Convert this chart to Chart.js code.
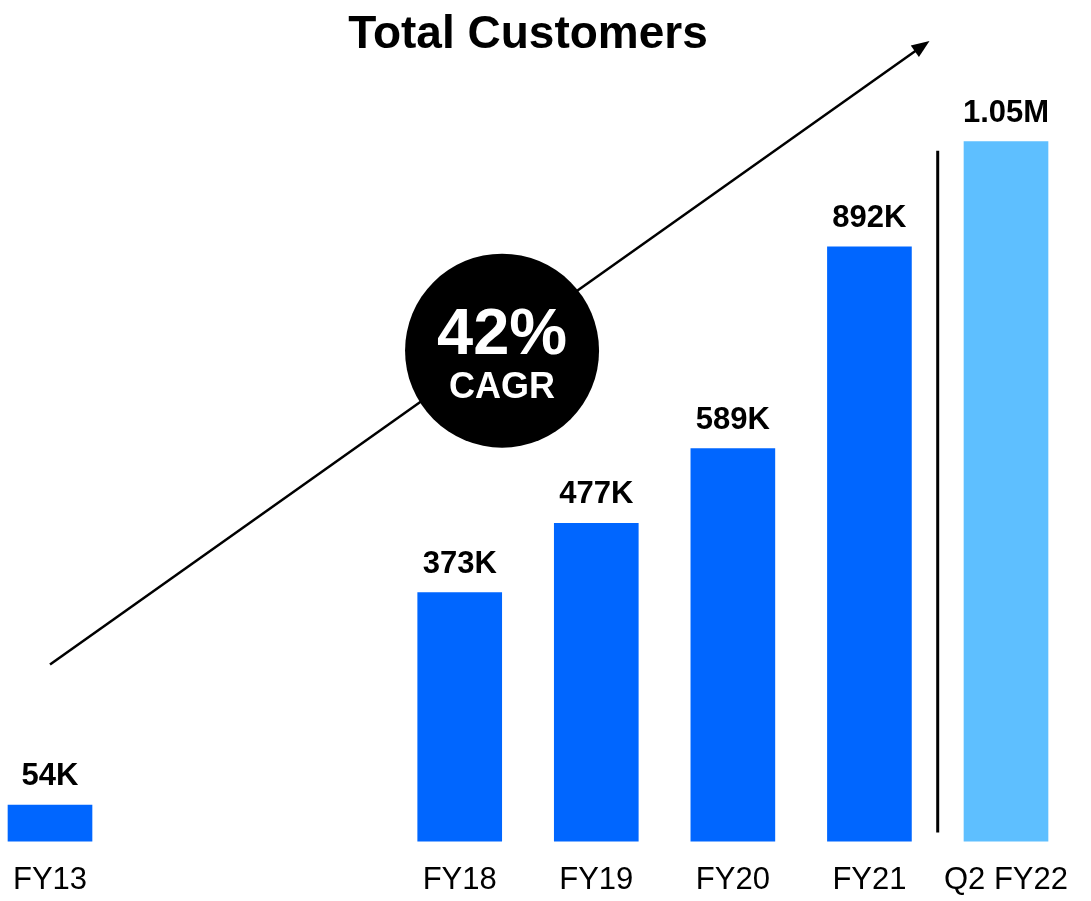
<!DOCTYPE html>
<html>
<head>
<meta charset="utf-8">
<style>
    html, body { margin: 0; padding: 0; background: #ffffff; }
    #wrap { width: 1091px; height: 901px; }
</style>
<script src="https://cdn.jsdelivr.net/npm/chart.js@4.4.1/dist/chart.umd.min.js"></script>
</head>
<body>
<div id="wrap"><canvas id="customersChart"></canvas></div>
<script>
var periods = ['FY13', '', '', 'FY18', 'FY19', 'FY20', 'FY21', 'Q2 FY22'];
var customers = [54, null, null, 373, 477, 589, 892, 1050]; // thousands
var barColors = ['#0066ff', '#0066ff', '#0066ff', '#0066ff', '#0066ff', '#0066ff', '#0066ff', '#5ebfff'];
var cagrText = '42%';
var cagrLabel = 'CAGR';

(function () {
    var fontFamily = '"Liberation Sans", Arial, Helvetica, sans-serif';

    function fmtValue(v) {
        if (v >= 1000) return (v / 1000).toFixed(2) + 'M';
        return v + 'K';
    }

    var overlay = {
        id: 'overlay',
        afterDatasetsDraw: function (chart) {
            var ctx = chart.ctx;
            var x = chart.scales.x;
            var y = chart.scales.y;
            var meta = chart.getDatasetMeta(0);

            ctx.save();

            // value labels above bars
            ctx.fillStyle = '#000000';
            ctx.font = 'bold 31px ' + fontFamily;
            ctx.textAlign = 'center';
            ctx.textBaseline = 'alphabetic';
            meta.data.forEach(function (bar, i) {
                if (customers[i] === null) return;
                ctx.fillText(fmtValue(customers[i]), bar.x, bar.y - 20);
            });

            // growth arrow
            var x0 = x.getPixelForValue(0), y0 = y.getPixelForValue(265);
            var x1 = x.getPixelForValue(6.44), y1 = y.getPixelForValue(1201);
            var ang = Math.atan2(y1 - y0, x1 - x0);
            ctx.strokeStyle = '#000000';
            ctx.lineWidth = 2.5;
            ctx.beginPath();
            ctx.moveTo(x0, y0);
            ctx.lineTo(x1 - 10 * Math.cos(ang), y1 - 10 * Math.sin(ang));
            ctx.stroke();
            ctx.beginPath();
            ctx.moveTo(x1, y1);
            ctx.lineTo(x1 - 18 * Math.cos(ang) + 7 * Math.sin(ang), y1 - 18 * Math.sin(ang) - 7 * Math.cos(ang));
            ctx.lineTo(x1 - 18 * Math.cos(ang) - 7 * Math.sin(ang), y1 - 18 * Math.sin(ang) + 7 * Math.cos(ang));
            ctx.closePath();
            ctx.fillStyle = '#000000';
            ctx.fill();

            // CAGR badge
            var cx = x.getPixelForValue(3.31), cy = y.getPixelForValue(736);
            ctx.beginPath();
            ctx.arc(cx, cy, 97, 0, Math.PI * 2);
            ctx.fill();
            ctx.fillStyle = '#ffffff';
            ctx.font = 'bold 65px ' + fontFamily;
            ctx.fillText(cagrText, cx, cy + 3);
            ctx.font = 'bold 36px ' + fontFamily;
            ctx.fillText(cagrLabel, cx, cy + 47);

            // divider before the latest quarter
            var dx = x.getPixelForValue(6.5);
            ctx.strokeStyle = '#000000';
            ctx.lineWidth = 3;
            ctx.beginPath();
            ctx.moveTo(dx, y.getPixelForValue(1036));
            ctx.lineTo(dx, y.getPixelForValue(13));
            ctx.stroke();

            ctx.restore();
        }
    };

    new Chart(document.getElementById('customersChart').getContext('2d'), {
        type: 'bar',
        data: {
            labels: periods,
            datasets: [{
                data: customers,
                backgroundColor: barColors,
                barThickness: 84,
                clip: false
            }]
        },
        options: {
            responsive: true,
            maintainAspectRatio: false,
            animation: false,
            layout: { padding: { left: 50, right: 85, top: 0, bottom: -18 } },
            plugins: {
                legend: { display: false },
                tooltip: { enabled: false },
                title: {
                    display: true,
                    text: 'Total Customers',
                    color: '#000000',
                    font: { family: fontFamily, size: 46, weight: 'bold', lineHeight: 1.2 },
                    padding: { top: 8, bottom: 45 }
                }
            },
            scales: {
                x: {
                    offset: false,
                    grid: { display: false, drawTicks: false },
                    border: { display: false },
                    ticks: {
                        color: '#000000',
                        autoSkip: false,
                        maxRotation: 0,
                        padding: 3,
                        font: { family: fontFamily, size: 31, lineHeight: 2.32 }
                    }
                },
                y: {
                    display: false,
                    min: 0,
                    max: 1100
                }
            }
        },
        plugins: [overlay]
    });
})();
</script>
</body>
</html>
